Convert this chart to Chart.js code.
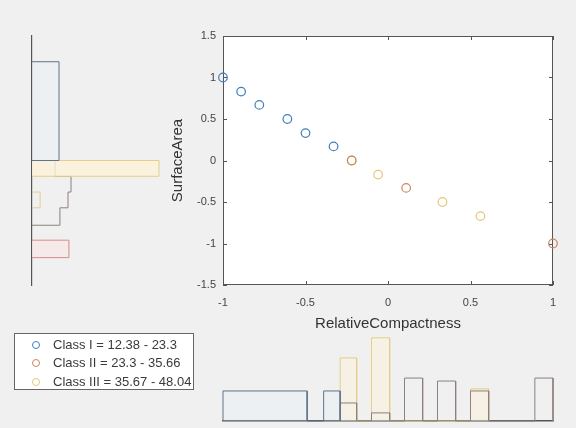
<!DOCTYPE html>
<html>
<head>
<meta charset="utf-8">
<script src="https://cdn.jsdelivr.net/npm/chart.js@4.4.1/dist/chart.umd.min.js"></script>
<style>
  body { margin: 0; width: 576px; height: 428px; background: #f0f0f0; position: relative; overflow: hidden;
         font-family: "Liberation Sans", Arial, sans-serif; }
  canvas { position: absolute; }
  #leftHist { left: 0; top: 0; }
  #main { left: 160px; top: 20px; }
  #bottomHist { left: 200px; top: 320px; }
  #legend { position: absolute; left: 14px; top: 333px; width: 178px; height: 55px; background: #fff;
            border: 1px solid #666; font-size: 13px; color: #3a3a3a; }
  #legend div { position: absolute; left: 0; height: 18px; line-height: 18px; white-space: nowrap; }
  #legend span.mk { position: absolute; left: 17px; top: 5px; width: 6px; height: 6px; border: 1px solid; border-radius: 50%; }
  #legend span.tx { position: absolute; left: 38px; }
</style>
</head>
<body>
<canvas id="leftHist" width="200" height="300"></canvas>
<canvas id="main" width="400" height="320"></canvas>
<canvas id="bottomHist" width="376" height="108"></canvas>
<div id="legend"></div>
<script>
'use strict';

let classNames = ['Class I = 12.38 - 23.3', 'Class II = 23.3 - 35.66', 'Class III = 35.67 - 48.04'];
let classColors = ['#3f7fbf', '#c98660', '#e5c77a'];

// scatter points (normalized values)
let class1X = [-1, -0.89, -0.78, -0.61, -0.5, -0.33];
let class1Y = [1, 0.83, 0.67, 0.5, 0.33, 0.17];
let class2X = [-0.22, 0.11, 1];
let class2Y = [0, -0.33, -1];
let class3X = [-0.22, -0.06, 0.33, 0.56];
let class3Y = [0, -0.17, -0.5, -0.67];

let xTicks = [-1, -0.5, 0, 0.5, 1];
let yTicks = [-1.5, -1, -0.5, 0, 0.5, 1, 1.5];

// bottom histogram (RelativeCompactness): bin edges and bar heights
let bottomEdges1 = [-1, -0.49, -0.39, -0.29];
let bottomHeights1 = [1, 0, 1];
let bottomEdges2 = [-0.29, -0.19, -0.1, 0.01, 0.1, 0.21, 0.3, 0.41, 0.5, 0.61, 0.89, 1];
let bottomHeights2 = [0.6, 0, 0.27, 0, 1.43, 0, 1.33, 0, 1.0, 0, 1.43];
let bottomEdges3 = [-0.29, -0.19, -0.1, 0.01, 0.5, 0.61];
let bottomHeights3 = [2.1, 0, 2.77, 0, 1.07];

// left histogram (SurfaceArea): bin edges and bar lengths
let leftEdges1 = [0, 1.19];
let leftHeights1 = [0.9];
let leftEdges2 = [-0.78, -0.57, -0.38, -0.19, 0];
let leftHeights2 = [0.93, 1.2, 1.3, 0.77];
let leftEdges2b = [-1.17, -0.96];
let leftHeights2b = [1.23];
let leftEdges3 = [-0.19, 0];
let leftHeights3 = [4.23];
let leftEdges3b = [-0.57, -0.38];
let leftHeights3b = [0.27];

function stairs(edges, heights, horizontal) {
    let pts = [];
    let add = function (pos, h) {
        pts.push(horizontal ? { x: h, y: pos } : { x: pos, y: h });
    };
    add(edges[0], 0);
    for (let i = 0; i < heights.length; i++) {
        add(edges[i], heights[i]);
        add(edges[i + 1], heights[i]);
    }
    add(edges[edges.length - 1], 0);
    return pts;
}

function toPoints(xs, ys) {
    return xs.map((v, i) => ({ x: v, y: ys[i] }));
}

function histSet(points, color, fillColor) {
    return {
        data: points,
        showLine: true,
        borderColor: color,
        borderWidth: 1,
        pointRadius: 0,
        fill: fillColor ? 'shape' : false,
        backgroundColor: fillColor || 'transparent',
        clip: false
    };
}

let tickColor = '#444';
let axisColor = '#555';

// white plot area, box and inward ticks like the original figure
let boxPlugin = {
    id: 'box',
    beforeDraw(chart) {
        let a = chart.chartArea;
        chart.ctx.fillStyle = '#fff';
        chart.ctx.fillRect(a.left, a.top, a.width, a.height);
    },
    beforeDatasetsDraw(chart) {
        let ctx = chart.ctx;
        let a = chart.chartArea;
        let x = chart.scales.x;
        let y = chart.scales.y;
        ctx.save();
        ctx.strokeStyle = axisColor;
        ctx.lineWidth = 1;
        ctx.strokeRect(a.left + 0.5, a.top + 0.5, a.width - 1, a.height - 1);
        ctx.beginPath();
        x.ticks.forEach(t => {
            let px = Math.round(x.getPixelForValue(t.value)) + 0.5;
            ctx.moveTo(px, a.bottom); ctx.lineTo(px, a.bottom - 4);
            ctx.moveTo(px, a.top); ctx.lineTo(px, a.top + 4);
        });
        y.ticks.forEach(t => {
            let py = Math.round(y.getPixelForValue(t.value)) + 0.5;
            ctx.moveTo(a.left, py); ctx.lineTo(a.left + 4, py);
            ctx.moveTo(a.right, py); ctx.lineTo(a.right - 4, py);
        });
        ctx.stroke();
        ctx.restore();
    }
};

Chart.defaults.font.family = '"Liberation Sans", Arial, sans-serif';
Chart.defaults.animation = false;
Chart.defaults.events = [];
Chart.defaults.plugins.legend.display = false;
Chart.defaults.plugins.tooltip.enabled = false;

let scatterSets = [
    toPoints(class1X, class1Y),
    toPoints(class2X, class2Y),
    toPoints(class3X, class3Y)
].map((pts, i) => ({
    label: classNames[i],
    data: pts,
    pointStyle: 'circle',
    pointRadius: 4.3,
    borderWidth: 1.2,
    borderColor: classColors[i],
    backgroundColor: 'transparent',
    clip: false
}));

new Chart(document.getElementById('main'), {
    type: 'scatter',
    data: { datasets: scatterSets },
    options: {
        responsive: false,
        layout: { padding: { top: 16, right: 7, bottom: 0, left: 0 } },
        scales: {
            x: {
                type: 'linear', min: -1, max: 1,
                afterBuildTicks: s => { s.ticks = xTicks.map(v => ({ value: v })); },
                afterFit: s => { s.height = 55; s.paddingLeft = 0; s.paddingRight = 0; },
                grid: { display: false, drawTicks: false },
                border: { display: false },
                ticks: { color: tickColor, font: { size: 11 }, padding: 11, maxRotation: 0, callback: v => String(v) },
                title: { display: true, text: 'RelativeCompactness', color: '#333', font: { size: 15 }, padding: { top: 0, bottom: 7 } }
            },
            y: {
                type: 'linear', min: -1.5, max: 1.5,
                afterBuildTicks: s => { s.ticks = yTicks.map(v => ({ value: v })); },
                afterFit: s => { s.width = 63; s.paddingTop = 0; s.paddingBottom = 0; },
                grid: { display: false, drawTicks: false },
                border: { display: false },
                ticks: { color: tickColor, font: { size: 11 }, padding: 7, callback: v => String(v) },
                title: { display: true, text: 'SurfaceArea', color: '#333', font: { size: 15 }, padding: { top: 9, bottom: 0 } }
            }
        }
    },
    plugins: [boxPlugin]
});

let blueHist = '#60738a';
let grayHist = '#8c817c';
let yellowHist = '#e2cf8a';
let redHist = '#d98a8a';

new Chart(document.getElementById('leftHist'), {
    type: 'scatter',
    data: {
        datasets: [
            histSet(stairs(leftEdges1, leftHeights1, true), blueHist, 'rgba(225,238,250,0.25)'),
            histSet(stairs(leftEdges3, leftHeights3, true), yellowHist, 'rgba(252,242,215,0.8)'),
            histSet(stairs(leftEdges2, leftHeights2, true), grayHist),
            histSet(stairs(leftEdges3b, leftHeights3b, true), yellowHist),
            histSet(stairs(leftEdges2b, leftHeights2b, true), redHist, 'rgba(250,228,228,0.6)')
        ]
    },
    options: {
        responsive: false,
        layout: { padding: { top: 36, right: 35, bottom: 15, left: 32 } },
        scales: {
            x: { type: 'linear', min: 0, max: 4.43, display: false },
            y: {
                type: 'linear', min: -1.5, max: 1.5,
                afterFit: s => { s.width = 0; },
                grid: { display: true, drawOnChartArea: false, drawTicks: false },
                border: { display: true, color: axisColor, width: 1.2 },
                ticks: { display: false }
            }
        }
    }
});

new Chart(document.getElementById('bottomHist'), {
    type: 'scatter',
    data: {
        datasets: [
            histSet(stairs(bottomEdges1, bottomHeights1, false), blueHist, 'rgba(225,238,250,0.25)'),
            histSet(stairs(bottomEdges2, bottomHeights2, false), grayHist),
            histSet(stairs(bottomEdges3, bottomHeights3, false), yellowHist, 'rgba(252,242,215,0.5)')
        ]
    },
    options: {
        responsive: false,
        layout: { padding: { top: 16, right: 23, bottom: 7, left: 23 } },
        scales: {
            x: {
                type: 'linear', min: -1, max: 1,
                afterFit: s => { s.height = 0; },
                grid: { display: true, drawOnChartArea: false, drawTicks: false },
                border: { display: true, color: axisColor, width: 1.5 },
                ticks: { display: false }
            },
            y: { type: 'linear', min: 0, max: 2.83, display: false }
        }
    }
});

// legend box
let legend = document.getElementById('legend');
let rowTops = [2, 20, 39];
for (let i = 0; i < classNames.length; i++) {
    let row = document.createElement('div');
    row.style.top = rowTops[i] + 'px';
    let mk = document.createElement('span');
    mk.className = 'mk';
    mk.style.borderColor = classColors[i];
    let tx = document.createElement('span');
    tx.className = 'tx';
    tx.textContent = classNames[i];
    row.appendChild(mk);
    row.appendChild(tx);
    legend.appendChild(row);
}
</script>
</body>
</html>
